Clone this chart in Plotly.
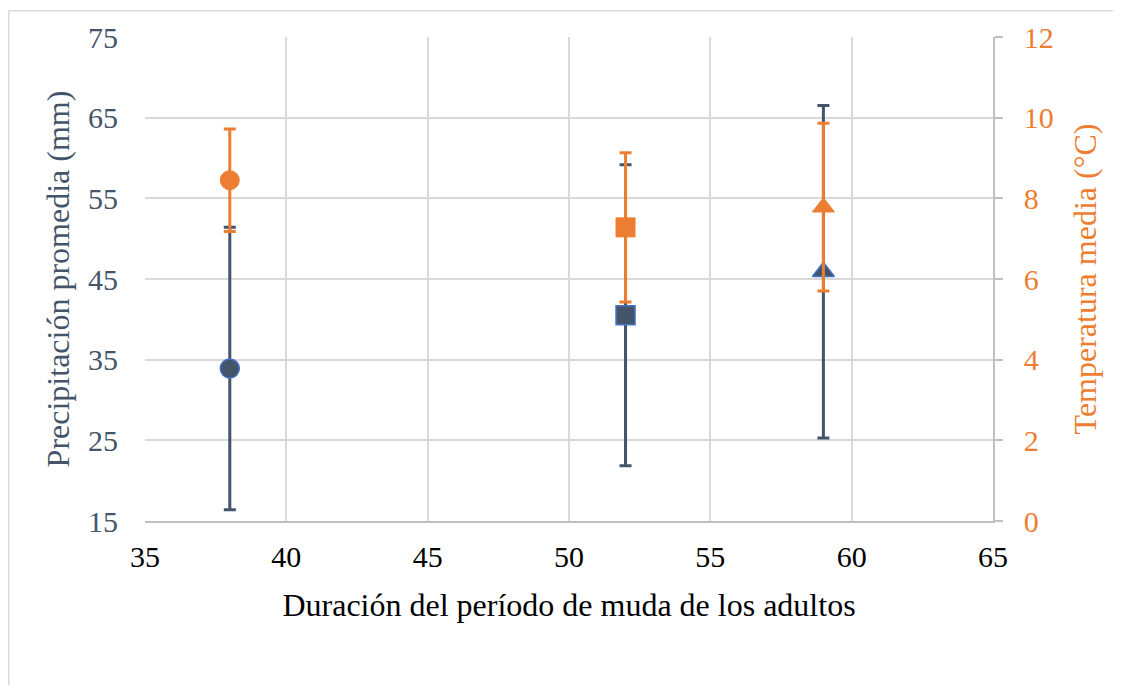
import plotly.graph_objects as go

# Data
duracion = [38, 52, 59]
precip_media = [33.9, 40.5, 45.9]
precip_err = [17.5, 18.65, 20.6]
temp_media = [8.45, 7.28, 7.78]
temp_err = [1.27, 1.85, 2.08]
simbolos = ["circle", "square", "triangle-up"]

x_ticks = [35, 40, 45, 50, 55, 60, 65]
y1_ticks = [15, 25, 35, 45, 55, 65, 75]
y2_ticks = [0, 2, 4, 6, 8, 10, 12]

SLATE = "#44546A"
BLUE = "#4472C4"
ORANGE = "#ED7D31"
GRID = "#D9D9D9"
AXLINE = "#BFBFBF"
FONT = "'Liberation Serif', 'Times New Roman', Times, 'DejaVu Serif', serif"

fig = go.Figure()

fig.add_trace(go.Scatter(
    x=duracion, y=precip_media, mode="markers", yaxis="y",
    marker=dict(symbol=simbolos, size=19, color=SLATE,
                line=dict(color=BLUE, width=1.5)),
    error_y=dict(type="data", array=precip_err, visible=True,
                 color=SLATE, thickness=3, width=6),
    showlegend=False,
))

fig.add_trace(go.Scatter(
    x=duracion, y=temp_media, mode="markers", yaxis="y2",
    marker=dict(symbol=simbolos, size=19, color=ORANGE,
                line=dict(color=ORANGE, width=1)),
    error_y=dict(type="data", array=temp_err, visible=True,
                 color=ORANGE, thickness=3, width=6),
    showlegend=False,
))

# page body has an 8px offset; compensate so the plot lands where the reference has it
OFF = 8
W, H = 1121, 685
L, R, T, B = 145 - OFF, 128 + OFF, 35 - OFF, 164 + OFF
pw, ph = W - L - R, H - T - B

fig.update_layout(
    width=W, height=H,
    margin=dict(l=L, r=R, t=T, b=B, pad=0),
    paper_bgcolor="white", plot_bgcolor="white",
    font=dict(family=FONT, size=30, color="black"),
    xaxis=dict(
        range=[35, 65], tickvals=x_ticks, showgrid=True, gridcolor=GRID,
        gridwidth=1.5, zeroline=False, showline=True, linecolor=AXLINE,
        linewidth=1.5, ticks="", ticklabelstandoff=8,
        tickfont=dict(family=FONT, size=30, color="black"),
        title=dict(text="Duración del período de muda de los adultos",
                   font=dict(family=FONT, size=32, color="black"),
                   standoff=22),
    ),
    yaxis=dict(
        range=[15, 75], tickvals=y1_ticks, showgrid=True, gridcolor=GRID,
        gridwidth=1.5, zeroline=False, showline=False, ticks="",
        ticklabelstandoff=26,
        tickfont=dict(family=FONT, size=30, color=SLATE),
        title=dict(text="Precipitación promedia (mm)",
                   font=dict(family=FONT, size=32, color=SLATE),
                   standoff=8),
    ),
    yaxis2=dict(
        range=[0, 12], tickvals=y2_ticks, overlaying="y", side="right",
        showgrid=False, zeroline=False, showline=True, linecolor=AXLINE,
        linewidth=1.5, ticks="outside", ticklen=8, tickcolor=AXLINE,
        tickwidth=1.5, ticklabelstandoff=15,
        tickfont=dict(family=FONT, size=30, color=ORANGE),
        title=dict(text="Temperatura media (°C)",
                   font=dict(family=FONT, size=32, color=ORANGE),
                   standoff=21),
    ),
    shapes=[
        dict(type="line", xref="paper", yref="paper",
             x0=(0.75 - L) / pw, x1=(W - L) / pw,
             y0=(H - B - 0.75) / ph, y1=(H - B - 0.75) / ph,
             line=dict(color=GRID, width=1.5), layer="below"),
        dict(type="line", xref="paper", yref="paper",
             x0=(0.75 - L) / pw, x1=(0.75 - L) / pw,
             y0=(H - B - 0.75) / ph, y1=-B / ph,
             line=dict(color=GRID, width=1.5), layer="below"),
    ],
)

fig.write_html("out.html")
